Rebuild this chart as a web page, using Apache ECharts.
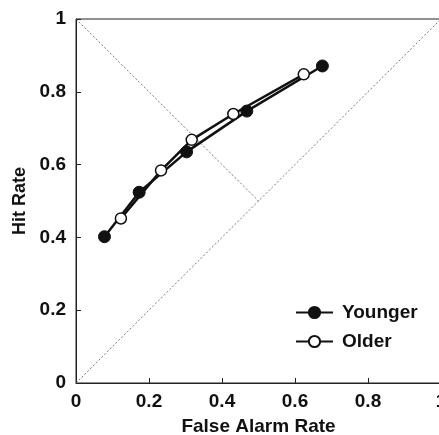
<!DOCTYPE html>
<html><head><meta charset="utf-8">
<script src="https://cdn.jsdelivr.net/npm/echarts@6/dist/echarts.min.js"></script>
<style>html,body{margin:0;padding:0;background:#fff}#c{width:439px;height:435px}</style>
</head><body><div id="c"></div>
<script>
const youngerFA = [0.078, 0.173, 0.303, 0.468, 0.675];
const youngerHit = [0.402, 0.524, 0.635, 0.747, 0.871];
const olderFA = [0.123, 0.233, 0.317, 0.431, 0.624];
const olderHit = [0.452, 0.584, 0.668, 0.739, 0.848];
const chanceLine = [[0, 0], [1, 1]];
const negDiag = [[0, 1], [0.5, 0.5]];
const ticks = [0, 0.2, 0.4, 0.6, 0.8, 1];

const font = 'Liberation Sans, Arial, sans-serif';
const chart = echarts.init(document.getElementById('c'), null, {renderer: 'canvas'});
const pair = (xs, ys) => xs.map((x, i) => [x, ys[i]]);
const lbl = v => String(v);

chart.setOption({
  animation: false,
  backgroundColor: '#fff',
  grid: {left: 76, right: -2, top: 19, bottom: 52, show: true, borderColor: '#222', borderWidth: 1,
         outerBoundsMode: 'none', containLabel: false},
  xAxis: {
    type: 'value', min: 0, max: 1, interval: 0.2,
    name: 'False Alarm Rate', nameLocation: 'middle', nameGap: 34,
    nameTextStyle: {fontFamily: font, fontSize: 19, color: '#111', fontWeight: 'bold'},
    axisLine: {show: true, lineStyle: {color: '#222', width: 1}},
    axisTick: {show: true, inside: true, length: 5, lineStyle: {color: '#222'}},
    axisLabel: {margin: 9, fontFamily: font, fontSize: 19, color: '#111', fontWeight: 'bold', formatter: lbl},
    splitLine: {show: false}
  },
  yAxis: {
    type: 'value', min: 0, max: 1, interval: 0.2,
    name: 'Hit Rate', nameLocation: 'middle', nameGap: 47,
    nameTextStyle: {fontFamily: font, fontSize: 18, color: '#111', fontWeight: 'bold'},
    axisLine: {show: true, lineStyle: {color: '#222', width: 1}},
    axisTick: {show: true, inside: true, length: 5, lineStyle: {color: '#222'}},
    axisLabel: {margin: 10, fontFamily: font, fontSize: 19, color: '#111', fontWeight: 'bold', formatter: lbl},
    splitLine: {show: false}
  },
  legend: {
    orient: 'vertical', left: 295, top: 303, padding: 0, itemWidth: 37, itemHeight: 14, itemGap: 10,
    textStyle: {fontFamily: font, fontSize: 19, color: '#111', fontWeight: 'bold', padding: [0, 0, 0, 4]},
    data: ['Younger', 'Older']
  },
  series: [
    {type: 'line', data: chanceLine, symbol: 'none', silent: true,
     lineStyle: {color: '#555', width: 0.8, type: [2, 2]}},
    {type: 'line', data: negDiag, symbol: 'none', silent: true,
     lineStyle: {color: '#555', width: 0.8, type: [2, 2]}},
    {name: 'Younger', type: 'line', data: pair(youngerFA, youngerHit), symbol: 'circle', symbolSize: 12,
     lineStyle: {color: '#111', width: 2.5}, itemStyle: {color: '#111', borderColor: '#111', borderWidth: 1}, z: 3},
    {name: 'Older', type: 'line', data: pair(olderFA, olderHit), symbol: 'circle', symbolSize: 11,
     lineStyle: {color: '#111', width: 2.5}, itemStyle: {color: '#fff', borderColor: '#111', borderWidth: 1.5}, z: 4}
  ]
});
</script></body></html>
